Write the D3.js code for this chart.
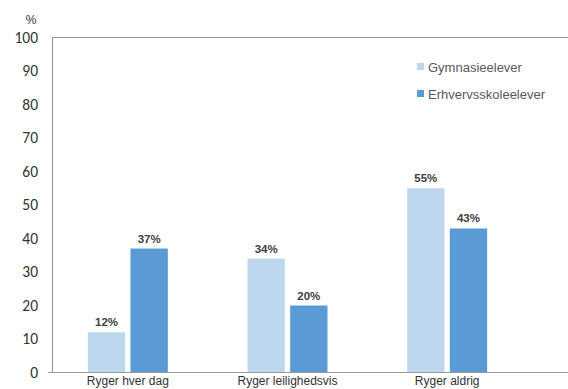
<!DOCTYPE html>
<html><head><meta charset="utf-8">
<script src="https://cdn.jsdelivr.net/npm/d3@7"></script>
<style>body{margin:0;background:#fff}svg{display:block}</style>
</head><body>
<script>
const categories = ["Ryger hver dag", "Ryger leilighedsvis", "Ryger aldrig"];
const seriesNames = ["Gymnasieelever", "Erhvervsskoleelever"];
const gymnasie = [12, 34, 55];
const erhverv = [37, 20, 43];
const yTicks = [0, 10, 20, 30, 40, 50, 60, 70, 80, 90, 100];
const colors = ["#BDD7EE", "#5B9BD5"];

const W = 568, H = 389;
const svg = d3.select("body").append("svg").attr("width", W).attr("height", H);
const y = d3.scaleLinear().domain([0, 100]).range([372.5, 37.5]);
const x0 = d3.scaleBand().domain(categories).range([48, 527]).paddingInner(0).paddingOuter(0);
const x1 = d3.scaleBand().domain(seriesNames).range([x0.bandwidth()/2 - 40, x0.bandwidth()/2 + 40]).paddingInner(0.125);

// frame
svg.append("line").attr("x1", 52).attr("x2", W).attr("y1", y(100)).attr("y2", y(100)).attr("stroke", "#999").attr("stroke-width", 1.2);
svg.append("line").attr("x1", 52.5).attr("x2", 52.5).attr("y1", y(100)).attr("y2", y(0)).attr("stroke", "#999").attr("stroke-width", 1.2);

// y axis labels
const yAxis = d3.axisLeft(y).tickValues(yTicks).tickSize(0).tickPadding(0);
const ga = svg.append("g").attr("transform", "translate(38,0)").call(yAxis);
ga.select(".domain").remove();
ga.selectAll("text").attr("font-family", "Calibri, Carlito, 'Liberation Sans', Arial, sans-serif").attr("font-size", 15.5).attr("fill", "#333");
svg.append("text").attr("x", 31).attr("y", 24).attr("text-anchor", "middle").attr("font-family", "'Liberation Sans', Arial, sans-serif").attr("font-size", 12).attr("fill", "#333").text("%");

const data = categories.map((c, i) => ({cat: c, vals: [gymnasie[i], erhverv[i]]}));
const groups = svg.selectAll("g.grp").data(data).join("g").attr("class", "grp").attr("transform", d => `translate(${x0(d.cat)},0)`);
groups.selectAll("rect").data(d => d.vals.map((v, j) => ({v, s: seriesNames[j], j}))).join("rect")
  .attr("x", d => x1(d.s)).attr("width", x1.bandwidth())
  .attr("y", d => y(d.v)).attr("height", d => y(0) - y(d.v))
  .attr("fill", d => colors[d.j]);
groups.selectAll("text.v").data(d => d.vals.map((v, j) => ({v, s: seriesNames[j], j}))).join("text").attr("class", "v")
  .attr("x", d => x1(d.s) + x1.bandwidth()/2).attr("y", d => y(d.v) - 6)
  .attr("text-anchor", "middle").attr("font-family", "'Liberation Sans', Arial, sans-serif").attr("font-size", 11.5).attr("font-weight", "bold").attr("fill", "#404040")
  .text(d => d.v + "%");

// x axis
svg.append("line").attr("x1", 48).attr("x2", W).attr("y1", y(0)).attr("y2", y(0)).attr("stroke", "#999").attr("stroke-width", 1.2);
const xAxis = d3.axisBottom(x0).tickSize(0).tickPadding(3.5);
const gx = svg.append("g").attr("transform", `translate(0,${y(0)})`).call(xAxis);
gx.select(".domain").remove();
gx.selectAll("text").attr("font-family", "'Liberation Sans', Arial, sans-serif").attr("font-size", 12).attr("fill", "#333");

// legend
const lg = svg.append("g").attr("transform", "translate(417,62)");
seriesNames.forEach((s, i) => {
  lg.append("rect").attr("x", 0).attr("y", i * 27 + 1).attr("width", 7).attr("height", 7).attr("fill", colors[i]);
  lg.append("text").attr("x", 11).attr("y", i * 27 + 9.5).attr("font-family", "'Liberation Sans', Arial, sans-serif").attr("font-size", 13).attr("fill", "#595959").text(s);
});
</script>
</body></html>
